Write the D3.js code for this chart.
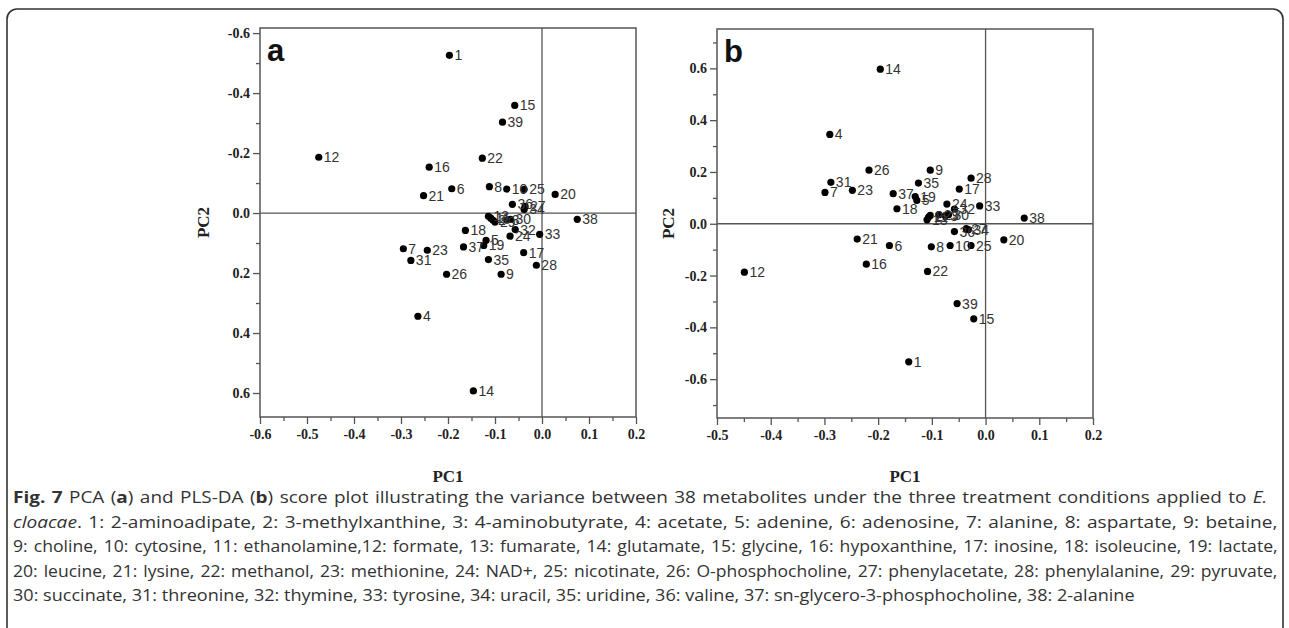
<!DOCTYPE html>
<html>
<head>
<meta charset="utf-8">
<script src="https://cdn.jsdelivr.net/npm/d3@7"></script>
<style>
  body { margin: 0; background: #fff; }
  .tick text { font-family: "Liberation Serif", "Times New Roman", serif; font-weight: bold; font-size: 14px; fill: #222; }
  .tick line { stroke: #555; stroke-width: 1.3; }
  .ptlabel { font-family: "Liberation Sans", Arial, sans-serif; font-size: 14px; fill: #333; }
  .axtitle { font-family: "Liberation Serif", "Times New Roman", serif; font-weight: bold; font-size: 17px; fill: #222; }
  .caption { font-family: "Open Sans", "Liberation Sans", sans-serif; font-size: 15.5px; fill: #333; }
</style>
</head>
<body>
<svg id="fig" width="1289" height="628"></svg>
<script>
// metabolite numbers (same for both panels)
var ids = [1,2,3,4,5,6,7,8,9,10,11,12,13,14,15,16,17,18,19,20,
           21,22,23,24,25,26,27,28,29,30,31,32,33,34,35,36,37,38,39];

// panel a - PCA scores
var pc1A = [-0.197,-0.104,-0.075,-0.264,-0.119,-0.192,-0.295,-0.112,-0.087,-0.075,
            -0.109,-0.475,-0.114,-0.146,-0.058,-0.240,-0.039,-0.163,-0.124,0.028,
            -0.252,-0.127,-0.244,-0.068,-0.038,-0.203,-0.036,-0.012,-0.100,-0.067,
            -0.279,-0.057,-0.005,-0.038,-0.114,-0.063,-0.167,0.075,-0.084];
var pc2A = [-0.526,0.024,0.024,0.344,0.091,-0.081,0.119,-0.088,0.204,-0.080,
            0.017,-0.186,0.011,0.593,-0.359,-0.153,0.132,0.058,0.108,-0.062,
            -0.058,-0.183,0.124,0.077,-0.079,0.204,-0.022,0.174,0.030,0.021,
            0.158,0.055,0.071,-0.012,0.155,-0.029,0.113,0.021,-0.303];

// panel b - PLS-DA scores
var pc1B = [-0.143,-0.103,-0.075,-0.290,-0.128,-0.179,-0.299,-0.101,-0.103,-0.066,
            -0.106,-0.449,-0.109,-0.196,-0.022,-0.222,-0.049,-0.165,-0.131,0.034,
            -0.239,-0.108,-0.248,-0.072,-0.027,-0.217,-0.036,-0.027,-0.087,-0.069,
            -0.288,-0.058,-0.011,-0.032,-0.125,-0.058,-0.172,0.072,-0.053];
var pc2B = [-0.533,0.032,0.031,0.345,0.090,-0.084,0.121,-0.089,0.207,-0.084,
            0.026,-0.187,0.015,0.597,-0.367,-0.156,0.134,0.058,0.105,-0.062,
            -0.059,-0.184,0.129,0.076,-0.084,0.207,-0.019,0.176,0.035,0.035,
            0.160,0.057,0.069,-0.023,0.157,-0.030,0.116,0.022,-0.308];

// tick values
var xMajorA = [-0.6,-0.5,-0.4,-0.3,-0.2,-0.1,0.0,0.1,0.2];
var xMinorA = [-0.55,-0.45,-0.35,-0.25,-0.15,-0.05,0.05,0.15];
var yMajorA = [-0.6,-0.4,-0.2,0.0,0.2,0.4,0.6];
var yMinorA = [-0.5,-0.3,-0.1,0.1,0.3,0.5];

var xMajorB = [-0.5,-0.4,-0.3,-0.2,-0.1,0.0,0.1,0.2];
var xMinorB = [-0.45,-0.35,-0.25,-0.15,-0.05,0.05,0.15];
var yMajorB = [-0.6,-0.4,-0.2,0.0,0.2,0.4,0.6];
var yMinorB = [-0.7,-0.5,-0.3,-0.1,0.1,0.3,0.5,0.7];

var captionLines = [
  [["b","Fig. 7"],["n"," PCA ("],["b","a"],["n",") and PLS-DA ("],["b","b"],["n",") score plot illustrating the variance between 38 metabolites under the three treatment conditions applied to "],["i","E."]],
  [["i","cloacae"],["n",". 1: 2-aminoadipate, 2: 3-methylxanthine, 3: 4-aminobutyrate, 4: acetate, 5: adenine, 6: adenosine, 7: alanine, 8: aspartate, 9: betaine,"]],
  [["n","9: choline, 10: cytosine, 11: ethanolamine,12: formate, 13: fumarate, 14: glutamate, 15: glycine, 16: hypoxanthine, 17: inosine, 18: isoleucine, 19: lactate,"]],
  [["n","20: leucine, 21: lysine, 22: methanol, 23: methionine, 24: NAD+, 25: nicotinate, 26: O-phosphocholine, 27: phenylacetate, 28: phenylalanine, 29: pyruvate,"]],
  [["n","30: succinate, 31: threonine, 32: thymine, 33: tyrosine, 34: uracil, 35: uridine, 36: valine, 37: sn-glycero-3-phosphocholine, 38: 2-alanine"]]
];
// end of each justified caption line (px)
var captionWidths = [1255, 1265, 1265, 1265];

var fmt = function(d){ return d3.format(".1f")(d).replace("\u2212", "-"); };

var svg = d3.select("#fig");

// outer rounded frame of the figure box
svg.append("rect")
  .attr("x", 7).attr("y", 9)
  .attr("width", 1276).attr("height", 660)
  .attr("rx", 10).attr("ry", 10)
  .attr("fill", "none")
  .attr("stroke", "#333")
  .attr("stroke-width", 1.6);

function drawPanel(cfg) {
  var x = d3.scaleLinear().domain(cfg.xDomain).range([cfg.left, cfg.right]);
  var y = d3.scaleLinear().domain(cfg.yDomain).range(cfg.yRange);

  var g = svg.append("g");

  // minor ticks
  g.append("g")
    .attr("transform", "translate(0," + cfg.bottom + ")")
    .call(d3.axisBottom(x).tickValues(cfg.xMinor).tickSize(4).tickFormat(""))
    .call(function(s){ s.select(".domain").remove(); });
  g.append("g")
    .attr("transform", "translate(" + cfg.left + ",0)")
    .call(d3.axisLeft(y).tickValues(cfg.yMinor).tickSize(4).tickFormat(""))
    .call(function(s){ s.select(".domain").remove(); });

  // major ticks + labels
  g.append("g")
    .attr("transform", "translate(0," + cfg.bottom + ")")
    .call(d3.axisBottom(x).tickValues(cfg.xMajor).tickSize(7).tickPadding(5).tickFormat(fmt))
    .call(function(s){ s.select(".domain").remove(); });
  g.append("g")
    .attr("transform", "translate(" + cfg.left + ",0)")
    .call(d3.axisLeft(y).tickValues(cfg.yMajor).tickSize(7).tickPadding(3).tickFormat(fmt))
    .call(function(s){ s.select(".domain").remove(); });

  // zero lines
  g.append("line")
    .attr("x1", x(0)).attr("x2", x(0))
    .attr("y1", cfg.top).attr("y2", cfg.bottom)
    .attr("stroke", "#555").attr("stroke-width", 1.3);
  g.append("line")
    .attr("x1", cfg.left).attr("x2", cfg.right)
    .attr("y1", y(0)).attr("y2", y(0))
    .attr("stroke", "#555").attr("stroke-width", 1.3);

  // frame
  g.append("rect")
    .attr("x", cfg.left).attr("y", cfg.top)
    .attr("width", cfg.right - cfg.left)
    .attr("height", cfg.bottom - cfg.top)
    .attr("fill", "none")
    .attr("stroke", "#555")
    .attr("stroke-width", 1.5);

  var pts = ids.map(function(id, i){ return {id: id, x: cfg.xs[i], y: cfg.ys[i]}; });

  g.selectAll("circle.pt")
    .data(pts)
    .enter().append("circle")
    .attr("class", "pt")
    .attr("cx", function(d){ return x(d.x); })
    .attr("cy", function(d){ return y(d.y); })
    .attr("r", 3.6)
    .attr("fill", "#000");

  g.selectAll("text.ptlabel")
    .data(pts)
    .enter().append("text")
    .attr("class", "ptlabel")
    .attr("x", function(d){ return x(d.x) + 5; })
    .attr("y", function(d){ return y(d.y); })
    .attr("dy", "0.36em")
    .text(function(d){ return d.id; });

  // panel letter
  g.append("text")
    .attr("x", cfg.left + 7).attr("y", cfg.top + 33)
    .attr("font-family", "Liberation Sans, Arial, sans-serif")
    .attr("font-weight", "bold")
    .attr("font-size", 31)
    .attr("fill", "#111")
    .text(cfg.letter);

  // axis titles
  g.append("text")
    .attr("class", "axtitle")
    .attr("x", (cfg.left + cfg.right) / 2).attr("y", 482)
    .attr("text-anchor", "middle")
    .text("PC1");
  g.append("text")
    .attr("class", "axtitle")
    .attr("transform", "translate(" + cfg.pc2x + "," + ((cfg.top + cfg.bottom) / 2) + ") rotate(-90)")
    .attr("text-anchor", "middle")
    .attr("dy", "0.35em")
    .text("PC2");
}

drawPanel({
  letter: "a",
  left: 260, right: 636, top: 28, bottom: 417,
  xDomain: [-0.6, 0.2], yDomain: [-0.617, 0.68], yRange: [28, 417],
  xMajor: xMajorA, xMinor: xMinorA, yMajor: yMajorA, yMinor: yMinorA,
  xs: pc1A, ys: pc2A, pc2x: 203
});

drawPanel({
  letter: "b",
  left: 717, right: 1093, top: 29, bottom: 418,
  xDomain: [-0.5, 0.2], yDomain: [-0.75, 0.752], yRange: [418, 29],
  xMajor: xMajorB, xMinor: xMinorB, yMajor: yMajorB, yMinor: yMinorB,
  xs: pc1B, ys: pc2B, pc2x: 668
});

// caption - each justified line is squeezed horizontally so that it
// fills its width with only a little extra word gap; last line uses the mean squeeze
var cap = svg.append("g").attr("class", "caption");
var gapExtra = 1.5;
var scales = [];
captionLines.forEach(function(parts, i){
  var line = cap.append("g");
  var t = line.append("text")
    .attr("x", 0)
    .attr("y", 503 + i * 24.6);
  parts.forEach(function(p){
    var ts = t.append("tspan").text(p[1]);
    if (p[0] == "b") ts.attr("font-weight", "bold");
    if (p[0] == "i") ts.attr("font-style", "italic");
  });
  var sx;
  if (i < captionWidths.length) {
    var natural = t.node().getComputedTextLength();
    var spaces = parts.map(function(p){ return p[1]; }).join("").split(" ").length - 1;
    sx = (captionWidths[i] - gapExtra * spaces) / natural;
    t.attr("word-spacing", gapExtra / sx);
    if (i > 0) scales.push(sx);
  } else {
    sx = d3.mean(scales);
  }
  line.attr("transform", "translate(13,0) scale(" + sx + ",1)");
});
</script>
</body>
</html>
